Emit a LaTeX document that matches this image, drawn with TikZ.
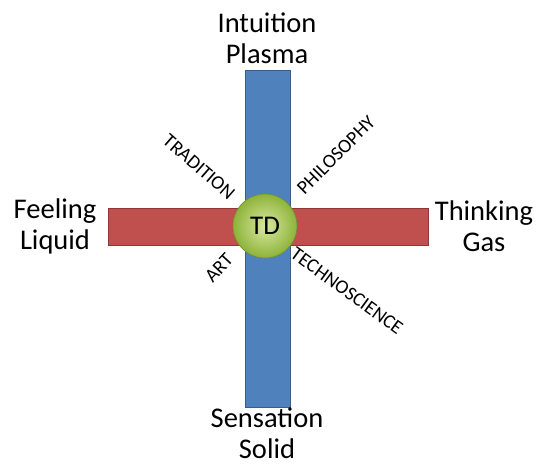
\documentclass[tikz,border=0pt]{standalone}
\usepackage{fontspec}
\setmainfont{Carlito}
\definecolor{barblue}{HTML}{4F81BD}
\definecolor{barblueline}{HTML}{385D8A}
\definecolor{barred}{HTML}{C0504D}
\definecolor{barredline}{HTML}{8C3836}
\definecolor{balllight}{HTML}{D9E8A0}
\definecolor{balldark}{HTML}{8DB33A}
\tikzset{
  bar/.style={draw, line width=.8pt, inner sep=0pt, outer sep=0pt},
  pole/.style={align=center, font=\fontsize{28.5}{31}\selectfont, inner sep=0pt},
  way/.style={font=\fontsize{19.5}{20}\selectfont, inner sep=0pt},
}
\begin{document}
\begin{tikzpicture}[x=1pt, y=-1pt]
\useasboundingbox (0,0) rectangle (539,465);
% the two axes
\node[bar, fill=barblue, draw=barblueline, minimum width=45pt, minimum height=337pt] (vert) at (267.5,238.5) {};
\node[bar, fill=barred, draw=barredline, minimum width=320pt, minimum height=37pt] (horiz) at (268,226.5) {};
% centre
\node[circle, minimum size=64pt, inner sep=0pt, draw=balldark!80!black, line width=.6pt,
  inner color=balllight, outer color=balldark, font=\fontsize{27}{28}\selectfont] (td) at (265,226) {TD};
% poles
\node[pole] (intuition) at (267,38) {Intuition\\Plasma};
\node[pole] (sensation) at (267,433) {Sensation\\Solid};
\node[pole] (feeling) at (55,226) {Feeling\\Liquid};
\node[pole] (thinking) at (484,226) {Thinking\\Gas};
% diagonals
\node[way, rotate=-41] (tradition) at (199,167) {TRADITION};
\node[way, rotate=45] (philosophy) at (336,155) {PHILOSOPHY};
\node[way, rotate=47] (art) at (219,268) {ART};
\node[way, rotate=-36] (techno) at (347,291) {TECHNOSCIENCE};
\end{tikzpicture}
\end{document}
